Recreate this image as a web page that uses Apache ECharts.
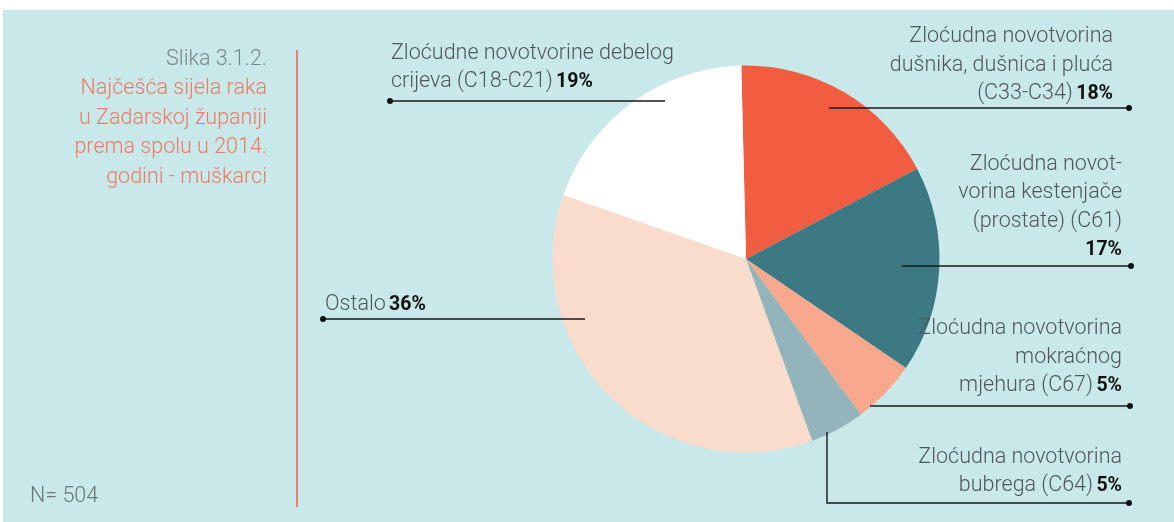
<!DOCTYPE html>
<html><head><meta charset="utf-8">
<script src="https://cdn.jsdelivr.net/npm/echarts@6/dist/echarts.min.js"></script>
<style>html,body{margin:0;padding:0;background:#fff}#c{width:1174px;height:522px}</style>
</head><body><div id="c"></div>
<script>
// ---- data ----
const total = 504;
const categories = [
  'Zloćudna novotvorina\ndušnika, dušnica i pluća\n(C33-C34)',
  'Zloćudna novot-\nvorina kestenjače\n(prostate) (C61)\n',
  'Zloćudna novotvorina\nmokraćnog\nmjehura (C67)',
  'Zloćudna novotvorina\nbubrega (C64)',
  'Ostalo',
  'Zloćudne novotvorine debelog\ncrijeva (C18-C21)'
];
const counts = [89, 87, 27, 23, 181, 97];
const colors = ['#f15d41', '#3d7982', '#f8a98d', '#93b4ba', '#fadccd', '#ffffff'];

// ---- label / leader layout (annotation placement) ----
const leaderLayout = [
  { align: 'right', labelX: 1113, labelBottom: 108, pts: [[829, 108], [1129, 108]] },
  { align: 'right', labelX: 1122, labelBottom: 264, pts: [[902, 266], [1131, 266]] },
  { align: 'right', labelX: 1122, labelBottom: 400, pts: [[870, 406], [1130, 406]] },
  { align: 'right', labelX: 1122, labelBottom: 500, pts: [[827, 432], [827, 503], [1129, 503]] },
  { align: 'left',  labelX: 325,  labelBottom: 319, pts: [[585, 319], [323, 319]] },
  { align: 'left',  labelX: 391,  labelBottom: 96,  pts: [[665, 101], [390, 101]] }
];

const FONT = 'Roboto, "Noto Sans", sans-serif';
const chart = echarts.init(document.getElementById('c'));

function fmt(p) {
  const pct = Math.round(p.value / total * 100) + '%';
  const lines = categories[p.dataIndex].split('\n');
  const out = lines.map((l, i) => {
    if (i === lines.length - 1) {
      return (l ? '{t|' + l + '} ' : '') + '{p|' + pct + '}';
    }
    return '{t|' + l + '}';
  });
  return out.join('\n');
}

const leaders = [];
leaderLayout.forEach(L => {
  leaders.push({ type: 'polyline', shape: { points: L.pts },
    style: { stroke: '#1a1a1a', lineWidth: 1.4, fill: null }, z: 100 });
  const e = L.pts[L.pts.length - 1];
  leaders.push({ type: 'circle', shape: { cx: e[0], cy: e[1], r: 3 }, style: { fill: '#111' }, z: 101 });
});

chart.setOption({
  backgroundColor: '#ffffff',
  animation: false,
  graphic: [
    { type: 'rect', shape: { x: 3, y: 10, width: 1171, height: 512 }, style: { fill: '#c9e8e9' }, z: -10 },
    { type: 'line', shape: { x1: 297, y1: 50, x2: 297, y2: 507 }, style: { stroke: '#e8826c', lineWidth: 2 } },
    { type: 'text', style: { text: 'Slika 3.1.2.', x: 267, y: 60, align: 'right', verticalAlign: 'middle',
        font: '300 21.5px ' + FONT, fill: '#7b8688' } },
    { type: 'text', style: { text: 'Najčešća sijela raka\nu Zadarskoj županiji\nprema spolu u 2014.\ngodini - muškarci',
        x: 267, y: 74, align: 'right', verticalAlign: 'top', lineHeight: 29.5,
        font: '300 21.5px ' + FONT, fill: '#ee7b63' } },
    { type: 'text', style: { text: 'N= 504', x: 30, y: 497, align: 'left', verticalAlign: 'middle',
        font: '300 21.5px ' + FONT, fill: '#6b7678' } },
    ...leaders
  ],
  series: [{
    type: 'pie',
    center: [746, 259],
    radius: 193.5,
    startAngle: 91.4,
    clockwise: true,
    avoidLabelOverlap: false,
    itemStyle: { borderWidth: 0 },
    data: counts.map((v, i) => ({ value: v, name: categories[i], itemStyle: { color: colors[i] } })),
    label: {
      show: true,
      position: 'outside',
      formatter: fmt,
      rich: {
        t: { fontFamily: FONT, fontWeight: 300, fontSize: 21.5, color: '#4e5759', lineHeight: 28.5 },
        p: { fontFamily: FONT, fontWeight: 'bold', fontSize: 19.5, color: '#111', lineHeight: 28.5 }
      }
    },
    labelLine: { show: false },
    labelLayout: function (params) {
      const L = leaderLayout[params.dataIndex];
      return { x: L.labelX, y: L.labelBottom, align: L.align, verticalAlign: 'bottom' };
    },
    emphasis: { disabled: true }
  }]
});
</script>
</body></html>
